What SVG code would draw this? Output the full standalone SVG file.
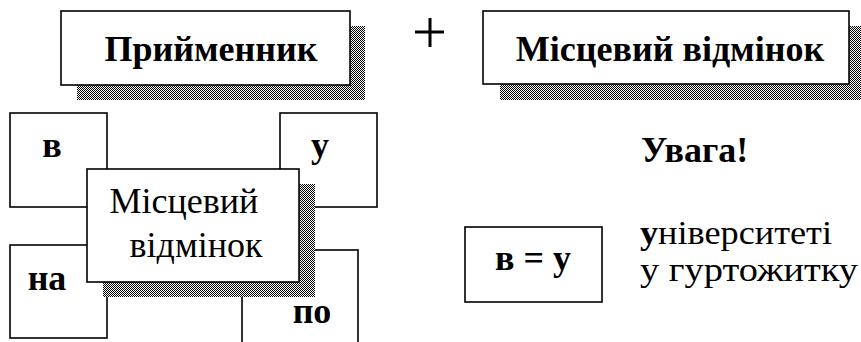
<svg xmlns="http://www.w3.org/2000/svg" width="861" height="342" viewBox="0 0 861 342">
<style>
.box{fill:#fff;stroke:#000;stroke-width:1.6}
.sh{fill:url(#dither)}
.b{font-family:"Liberation Serif",serif;font-weight:bold;font-size:36px;fill:#000}
.r{font-family:"Liberation Serif",serif;font-size:36px;fill:#000}
.ex{font-size:33px}
.c{text-anchor:middle}
</style>
<defs>
<pattern id="dither" width="2" height="2" patternUnits="userSpaceOnUse">
<rect width="2" height="2" fill="#fff"/>
<rect width="1" height="1" fill="#000"/>
<rect x="1" y="1" width="1" height="1" fill="#000"/>
</pattern>
</defs>
<g id="prep">
<rect class="sh" x="77" y="26" width="288" height="74"/>
<rect class="box" x="61" y="11" width="289" height="74"/>
<text class="b c" x="211" y="61">Прийменник</text>
</g>
<g id="plus">
<path d="M415 32H444M430 18V47" stroke="#000" stroke-width="3" fill="none"/>
</g>
<g id="case">
<rect class="sh" x="500" y="26" width="361" height="74"/>
<rect class="box" x="483" y="11" width="366" height="73"/>
<text class="b c" x="670" y="61">Місцевий відмінок</text>
</g>
<g id="v">
<rect class="box" x="10" y="113" width="97" height="94"/>
<text class="b c" x="52" y="157">в</text>
</g>
<g id="u">
<rect class="box" x="280" y="113" width="97" height="94"/>
<text class="b c" x="320" y="157">у</text>
</g>
<g id="na">
<rect class="box" x="10" y="245" width="97" height="93"/>
<text class="b c" x="47" y="290">на</text>
</g>
<g id="po">
<rect class="box" x="242" y="250" width="116" height="96"/>
<text class="b c" x="312" y="323">по</text>
</g>
<g id="center">
<rect class="sh" x="103" y="184" width="212" height="113"/>
<rect class="box" x="87" y="169" width="212" height="113"/>
<text class="r c" x="184" y="213">Місцевий</text>
<text class="r c" x="196" y="257">відмінок</text>
</g>
<g id="note">
<text class="b" x="641" y="162">Увага!</text>
</g>
<g id="eq">
<rect class="box" x="465" y="227" width="137" height="75"/>
<text class="b c" x="533" y="270">в = у</text>
</g>
<g id="examples">
<text class="r ex" x="640" y="244" textLength="192" lengthAdjust="spacingAndGlyphs"><tspan font-weight="bold">у</tspan>ніверситеті</text>
<text class="r ex" x="640" y="281" textLength="218" lengthAdjust="spacingAndGlyphs">у гуртожитку</text>
</g>
<g id="connectors"/>
</svg>
